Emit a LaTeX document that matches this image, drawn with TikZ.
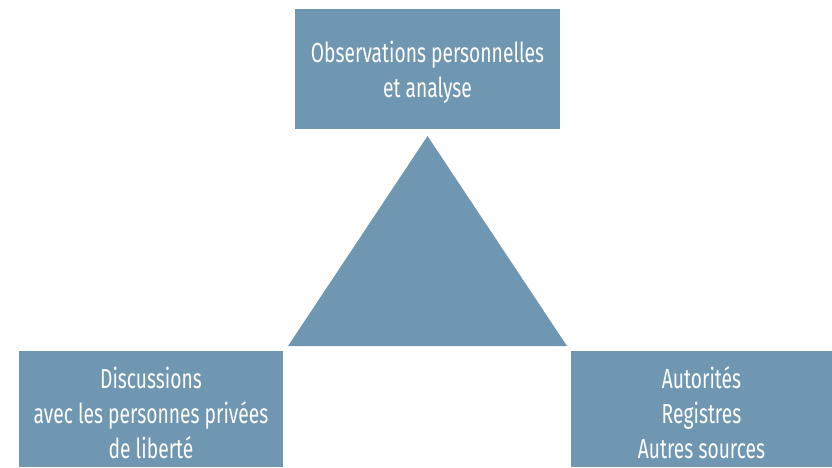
\documentclass[tikz,border=0pt]{standalone}
\usepackage{fontspec}
\setmainfont[FakeStretch=0.7]{Fira Sans}
\definecolor{boxblue}{HTML}{6F97B2}
\begin{document}
\begin{tikzpicture}[x=1pt,y=-1pt,
  bx/.style={fill=boxblue,draw=none,text=white,align=center,font=\fontsize{27.5}{35}\selectfont,inner sep=0pt}]
\useasboundingbox (0,0) rectangle (832,467);
\fill[boxblue] (295,9) rectangle (560,129);
\node[bx] (top) at (427.5,72) {Observations personnelles\\et analyse};
\fill[boxblue] (19,351) rectangle (283,467);
\node[bx] (left) at (151,413) {Discussions\\avec les personnes privées\\de liberté};
\fill[boxblue] (571,351) rectangle (832,467);
\node[bx] (right) at (701.5,413) {Autorités\\Registres\\Autres sources};
\coordinate (apex) at (427.5,136);
\coordinate (bl) at (288,346);
\coordinate (br) at (567,346);
\fill[boxblue] (apex) -- (bl) -- (br) -- cycle;
\end{tikzpicture}
\end{document}
